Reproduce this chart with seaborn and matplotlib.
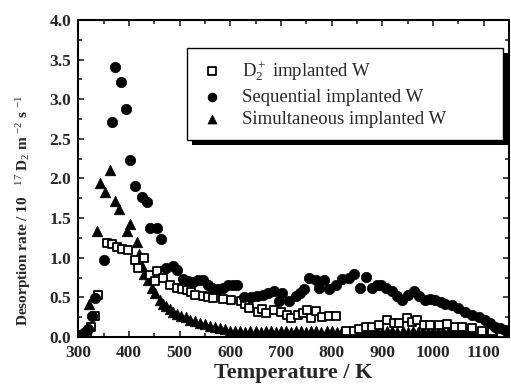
import numpy as np
import pandas as pd
import matplotlib
matplotlib.use("Agg")
import matplotlib.pyplot as plt
from matplotlib.patches import Rectangle
from matplotlib.transforms import IdentityTransform
from matplotlib.ticker import MultipleLocator, FormatStrFormatter
import seaborn as sns

# ---------------- data ----------------
d2_T = [305, 310, 318, 325, 333, 340, 356, 366, 376, 386, 399, 412, 418, 429, 441, 451, 455, 468,
        481, 494, 504, 514, 522, 530, 546, 556, 566, 585, 602, 621, 630, 638, 654, 662, 671, 687,
        700, 713, 720, 733, 743, 752, 759, 769, 782, 795, 808, 828, 845, 855, 867, 880, 893, 910,
        923, 933, 949, 959, 969, 982, 995, 1011, 1028, 1043, 1057, 1077, 1097, 1116, 1135]
d2_rate = [0.00, 0.03, 0.05, 0.12, 0.26, 0.53, 1.19, 1.17, 1.14, 1.11, 1.10, 0.97, 0.87, 1.00, 0.78,
           0.70, 0.83, 0.74, 0.66, 0.62, 0.60, 0.59, 0.57, 0.53, 0.52, 0.50, 0.49, 0.48, 0.47, 0.45,
           0.42, 0.36, 0.32, 0.35, 0.30, 0.34, 0.32, 0.28, 0.24, 0.28, 0.30, 0.34, 0.24, 0.33, 0.25,
           0.27, 0.26, 0.07, 0.07, 0.10, 0.13, 0.13, 0.15, 0.21, 0.17, 0.17, 0.24, 0.19, 0.21, 0.15,
           0.15, 0.15, 0.16, 0.12, 0.13, 0.11, 0.08, 0.07, 0.05]

seq_T = [305, 312, 320, 328, 333, 350, 366, 373, 384, 394, 402, 412, 425, 435, 441, 455, 464, 474,
         487, 494, 506, 516, 526, 536, 546, 556, 565, 575, 585, 595, 605, 614, 628, 641, 652, 664,
         675, 687, 697, 703, 716, 729, 738, 746, 756, 769, 775, 785, 795, 808, 821, 834, 845, 857,
         867, 880, 890, 897, 908, 920, 930, 939, 950, 962, 972, 985, 995, 1005, 1015, 1024, 1037,
         1050, 1063, 1077, 1090, 1103, 1113, 1123, 1132, 1142]
seq_rate = [0.02, 0.05, 0.10, 0.26, 0.49, 0.97, 2.71, 3.41, 3.22, 2.88, 2.23, 1.91, 1.77, 1.70, 1.38,
            1.38, 1.24, 0.87, 0.90, 0.85, 0.73, 0.70, 0.69, 0.72, 0.72, 0.66, 0.62, 0.60, 0.62, 0.66,
            0.66, 0.66, 0.50, 0.51, 0.52, 0.53, 0.56, 0.58, 0.45, 0.56, 0.45, 0.52, 0.56, 0.60, 0.75,
            0.72, 0.62, 0.72, 0.60, 0.66, 0.73, 0.75, 0.79, 0.62, 0.76, 0.62, 0.65, 0.66, 0.62, 0.58,
            0.52, 0.47, 0.53, 0.58, 0.52, 0.47, 0.48, 0.47, 0.44, 0.42, 0.40, 0.37, 0.32, 0.28, 0.25,
            0.22, 0.18, 0.13, 0.11, 0.09]

sim_T = [305, 312, 322, 337, 343, 352, 363, 373, 381, 396, 402, 417, 420, 425, 430, 437, 445, 452,
         461, 468, 474, 481, 487, 495, 503, 512, 520, 530, 540, 550, 560, 570, 580, 590, 600, 610,
         620, 630, 640, 650, 660, 670, 680, 690, 700, 710, 720, 730, 740, 750, 760, 770, 780, 790,
         800, 810, 820, 830, 840, 850, 860, 870, 880, 890, 900, 910, 920, 930, 940, 950, 960, 970,
         980, 990, 1000, 1010, 1020, 1030, 1040, 1050, 1060, 1070, 1080, 1090, 1100, 1110, 1120,
         1130, 1140, 1150]
sim_rate = [0.02, 0.08, 0.42, 1.34, 1.94, 1.83, 2.11, 1.72, 1.62, 1.34, 1.43, 1.20, 1.05, 0.90, 0.80,
            0.72, 0.62, 0.55, 0.47, 0.42, 0.39, 0.35, 0.32, 0.29, 0.27, 0.25, 0.22, 0.20, 0.18, 0.16,
            0.14, 0.12, 0.11, 0.10, 0.08, 0.07, 0.08, 0.06, 0.07, 0.08, 0.06, 0.07, 0.08, 0.06, 0.07,
            0.08, 0.06, 0.07, 0.08, 0.06, 0.07, 0.08, 0.06, 0.07, 0.08, 0.06, 0.07, 0.05, 0.06, 0.05,
            0.06, 0.07, 0.06, 0.07, 0.06, 0.07, 0.08, 0.06, 0.07, 0.06, 0.07, 0.06, 0.07, 0.06, 0.07,
            0.06, 0.07, 0.06, 0.07, 0.06, 0.07, 0.06, 0.06, 0.05, 0.06, 0.05, 0.06, 0.05, 0.05, 0.04]

labels = ["D$_2^+$ implanted W", "Sequential implanted W", "Simultaneous implanted W"]
x_ticks = [300, 400, 500, 600, 700, 800, 900, 1000, 1100]

# ---------------- style ----------------
sns.set_style("ticks")
plt.rcParams["font.family"] = ["Liberation Serif", "DejaVu Serif"]
plt.rcParams["mathtext.fontset"] = "custom"
plt.rcParams["mathtext.rm"] = "Liberation Serif"
plt.rcParams["mathtext.it"] = "Liberation Serif:italic"
plt.rcParams["mathtext.bf"] = "Liberation Serif:bold"

fig = plt.figure(figsize=(5.11, 3.90), dpi=100)
ax = fig.add_axes([0.153, 0.136, 0.843, 0.813])

d2 = pd.DataFrame({"T": d2_T, "rate": d2_rate})
seq = pd.DataFrame({"T": seq_T, "rate": seq_rate})
sim = pd.DataFrame({"T": sim_T, "rate": sim_rate})

sns.scatterplot(data=sim, x="T", y="rate", marker="^", s=58, color="black",
                edgecolor="black", linewidth=0.5, ax=ax, label=labels[2], zorder=2)
sns.scatterplot(data=d2, x="T", y="rate", marker="s", s=36, facecolor="white",
                edgecolor="black", linewidth=1.3, ax=ax, label=labels[0], zorder=3)
sns.scatterplot(data=seq, x="T", y="rate", marker="o", s=56, color="black",
                edgecolor="black", linewidth=0.5, ax=ax, label=labels[1], zorder=4)

ax.set_xlim(300, 1150)
ax.set_ylim(0, 4.0)
ax.set_xticks(x_ticks)
ax.xaxis.set_minor_locator(MultipleLocator(50))
ax.yaxis.set_major_locator(MultipleLocator(0.5))
ax.yaxis.set_minor_locator(MultipleLocator(0.25))
ax.yaxis.set_major_formatter(FormatStrFormatter("%.1f"))
ax.tick_params(which="both", direction="in", top=True, right=True, width=1.2)
ax.tick_params(which="major", length=4.5, labelsize=12.5)
ax.tick_params(axis="x", which="major", pad=6)
ax.tick_params(axis="y", which="major", pad=5)
ax.tick_params(which="minor", length=3)
for lab in ax.get_xticklabels() + ax.get_yticklabels():
    lab.set_fontweight("bold")
for sp in ax.spines.values():
    sp.set_linewidth(1.5)
    sp.set_color("black")

ax.set_xlabel("Temperature / K", fontsize=16, fontweight="bold", labelpad=1)
ax.set_ylabel("Desorption rate / 10   $^{17}$ D$_2$ m $^{-2}$ s $^{-1}$", fontsize=11,
              fontweight="bold")
ax.yaxis.set_label_coords(-0.105, 0.40)

handles, labs = ax.get_legend_handles_labels()
order = [labs.index(l) for l in labels]
leg = ax.legend([handles[i] for i in order], [labs[i] for i in order],
                loc="upper left", bbox_to_anchor=(0.253, 0.621, 0.733, 0.291), mode="expand",
                frameon=True, fancybox=False, edgecolor="black", framealpha=1,
                fontsize=13.5, markerscale=0.85, handletextpad=0.8, borderpad=0.6,
                labelspacing=0.3, handlelength=1.5, borderaxespad=0)
leg.get_frame().set_linewidth(1.0)
leg.set_zorder(10)

fig.canvas.draw()
bb = leg.get_frame().get_window_extent()
shadow = Rectangle((bb.x0 + 5, bb.y0 - 5), bb.width, bb.height, transform=IdentityTransform(),
                   facecolor="black", edgecolor="none", zorder=9, clip_on=False)
ax.add_artist(shadow)

fig.savefig("out.png", dpi=100)
